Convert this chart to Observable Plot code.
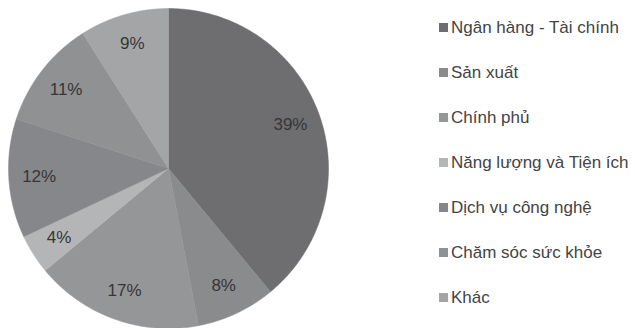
<!DOCTYPE html>
<html>
<head>
<meta charset="utf-8">
<script src="https://cdn.jsdelivr.net/npm/d3@7"></script>
<script src="https://cdn.jsdelivr.net/npm/@observablehq/plot@0.6"></script>
<style>
  html, body { margin: 0; padding: 0; background: #fff; }
  #wrap { position: relative; width: 635px; height: 328px; font-family: "Liberation Sans", Arial, sans-serif; }
  #legend { position: absolute; left: 439px; top: 0; }
  .item { position: absolute; left: 0; white-space: nowrap; display: flex; align-items: center; height: 20px; font-size: 17px; color: #444; }
  .sw { width: 9px; height: 9px; margin-right: 3px; }
</style>
</head>
<body>
<div id="wrap"></div>
<script>
const categories = ["Ngân hàng - Tài chính", "Sản xuất", "Chính phủ", "Năng lượng và Tiện ích", "Dịch vụ công nghệ", "Chăm sóc sức khỏe", "Khác"];
const values = [39, 8, 17, 4, 12, 11, 9];
const colors = ["#6e6e70", "#8a8b8d", "#959698", "#b4b5b7", "#86878a", "#909193", "#a4a5a7"];

const data = categories.map((c, i) => ({cat: c, value: values[i]}));
const arcs = d3.pie().sort(null).value(d => d.value).startAngle(0).endAngle(2 * Math.PI)(data);

// polygon vertices of each slice on the unit circle (y up)
const pts = [];
for (const a of arcs) {
  pts.push({cat: a.data.cat, x: 0, y: 0});
  const n = Math.max(4, Math.ceil((a.endAngle - a.startAngle) / 0.01));
  for (let k = 0; k <= n; k++) {
    const t = a.startAngle + (a.endAngle - a.startAngle) * k / n;
    pts.push({cat: a.data.cat, x: Math.sin(t), y: Math.cos(t)});
  }
  pts.push({cat: a.data.cat, x: 0, y: 0});
}
const labels = arcs.map(a => {
  const m = (a.startAngle + a.endAngle) / 2;
  return {x: 0.81 * Math.sin(m), y: 0.81 * Math.cos(m), text: a.data.value + "%"};
});

const chart = Plot.plot({
  width: 635,
  height: 328,
  marginTop: 8,
  marginBottom: 0,
  marginLeft: 8,
  marginRight: 307,
  x: {domain: [-1, 1], axis: null},
  y: {domain: [-1, 1], axis: null},
  color: {domain: categories, range: colors},
  style: {fontFamily: "Liberation Sans, Arial, sans-serif", background: "transparent"},
  marks: [
    Plot.line(pts, {x: "x", y: "y", z: "cat", fill: "cat", stroke: "cat", strokeWidth: 0.5, curve: "linear"}),
    Plot.text(labels, {x: "x", y: "y", text: "text", fontSize: 17, fill: "#363636"})
  ]
});
const wrap = document.getElementById("wrap");
wrap.appendChild(chart);

const legend = document.createElement("div");
legend.id = "legend";
categories.forEach((c, i) => {
  const it = document.createElement("div");
  it.className = "item";
  it.style.top = (27.5 + 45 * i - 10) + "px";
  const sw = document.createElement("span");
  sw.className = "sw";
  sw.style.background = colors[i];
  const tx = document.createElement("span");
  tx.textContent = c;
  it.appendChild(sw);
  it.appendChild(tx);
  legend.appendChild(it);
});
wrap.appendChild(legend);
</script>
</body>
</html>
